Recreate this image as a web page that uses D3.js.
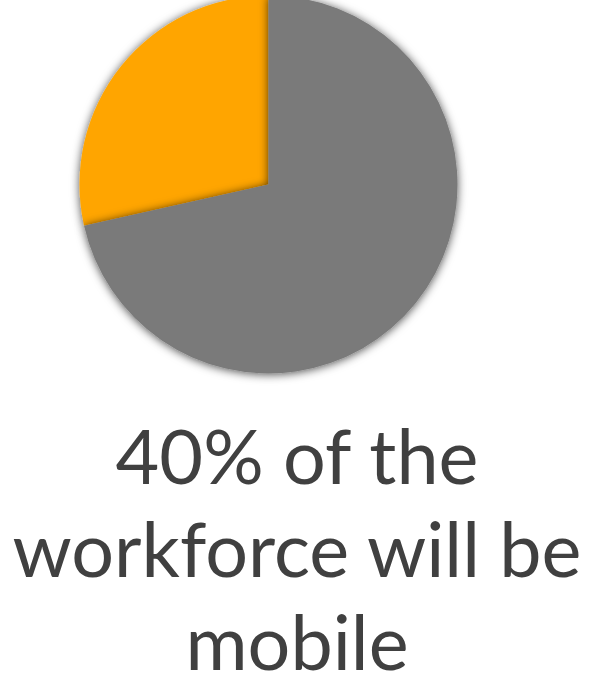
<!DOCTYPE html>
<html>
<head>
<meta charset="utf-8">
<script src="https://cdn.jsdelivr.net/npm/d3@7"></script>
<style>
  body { margin: 0; background: #fff; }
  svg { display: block; }
</style>
</head>
<body>
<script>
// slices, drawn in this order (orange first so the grey one shadows it)
var labels = ["mobile", "other"];
var values = [28.5, 71.5];
var colors = ["#FFA500", "#7A7A7A"];
var caption = ["40% of the", "workforce will be", "mobile"];

var width = 596, height = 681;
var cx = 268.5, cy = 184.5, radius = 189;

var svg = d3.select("body").append("svg")
    .attr("width", width)
    .attr("height", height);

var defs = svg.append("defs");
var f = defs.append("filter")
    .attr("id", "shadow")
    .attr("x", "-20%").attr("y", "-20%")
    .attr("width", "140%").attr("height", "140%");
f.append("feDropShadow")
    .attr("dx", 0).attr("dy", 1)
    .attr("stdDeviation", 5)
    .attr("flood-color", "#000")
    .attr("flood-opacity", 0.7);

// orange runs counter-clockwise from 12 o'clock
var pie = d3.pie().sort(null)
    .startAngle(0).endAngle(2 * Math.PI);
var arcs = pie(values.slice().reverse()).reverse();

var arc = d3.arc().innerRadius(0).outerRadius(radius);

var g = svg.append("g").attr("transform", "translate(" + cx + "," + cy + ")");
g.selectAll("path")
    .data(arcs)
    .enter()
    .append("path")
    .attr("d", arc)
    .attr("fill", function (d, i) { return colors[i]; })
    .attr("filter", "url(#shadow)");

svg.selectAll("text.caption")
    .data(caption)
    .enter()
    .append("text")
    .attr("class", "caption")
    .attr("x", 297)
    .attr("y", function (d, i) { return 484 + i * 93; })
    .attr("text-anchor", "middle")
    .style("font-family", "Lato, 'Open Sans', sans-serif")
    .style("font-size", "75.5px")
    .style("fill", "#404040")
    .text(function (d) { return d; });
</script>
</body>
</html>
